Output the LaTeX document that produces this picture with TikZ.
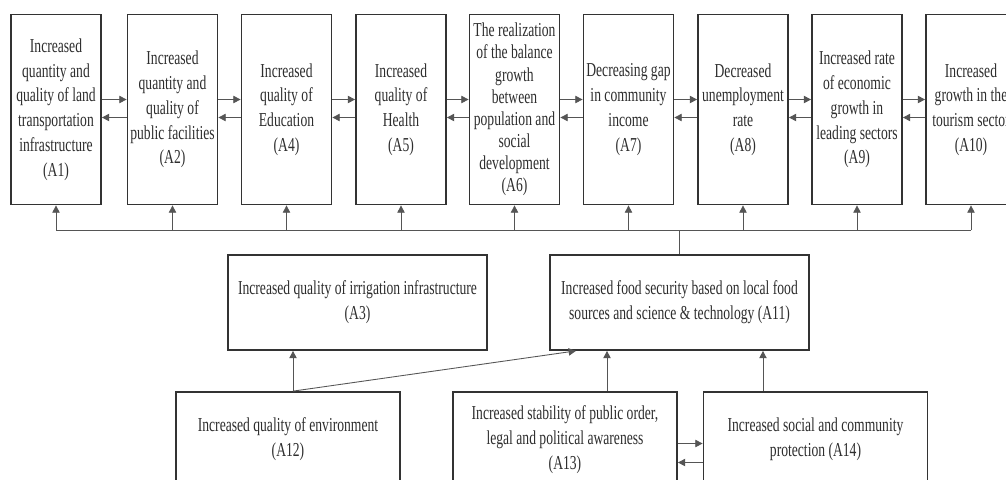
\documentclass[tikz,border=0pt]{standalone}
\usepackage{fontspec}
\setmainfont{Liberation Serif}[FakeStretch=0.69]
\usetikzlibrary{arrows.meta}
\definecolor{boxgray}{HTML}{333333}
\definecolor{linkgray}{HTML}{555555}

\tikzset{
  topbox/.style={draw=boxgray,line width=1.3pt,text=boxgray!90!black,align=center,
    inner sep=1pt,minimum width=67.5pt,minimum height=142.5pt,
    font=\fontsize{14.8}{18.6}\selectfont},
  widebox/.style={topbox,minimum width=194pt,minimum height=71.25pt},
  lowbox/.style={topbox,minimum width=168pt,minimum height=71.25pt},
  line/.style={draw=linkgray,line width=0.65pt},
  link/.style={line,-{Triangle[length=5.5pt,width=5.5pt]}}
}

\begin{document}
\begin{tikzpicture}[x=0.75pt,y=-0.75pt]
    \useasboundingbox (0,0) rectangle (1006,479);
    \fill[white] (0,0) rectangle (1006,479);
    \clip (0,0) rectangle (1006,479);

    % top row
    \node[topbox] (A1) at (56,109.5) {Increased\\quantity and\\quality of land\\transportation\\infrastructure\\(A1)};
    \node[topbox] (A2) at (172.5,109.5) {Increased\\quantity and\\quality of\\public facilities\\(A2)};
    \node[topbox] (A4) at (286.5,109.5) {Increased\\quality of\\Education\\(A4)};
    \node[topbox] (A5) at (401,109.5) {Increased\\quality of\\Health\\(A5)};
    \node[topbox,font=\fontsize{14.8}{16.6}\selectfont] (A6) at (514.5,109.5) {The realization\\of the balance\\growth\\between\\population and\\social\\development\\(A6)};
    \node[topbox] (A7) at (628.5,109.5) {Decreasing gap\\in community\\income\\(A7)};
    \node[topbox] (A8) at (743,109.5) {Decreased\\unemployment\\rate\\(A8)};
    \node[topbox] (A9) at (857,109.5) {Increased rate\\of economic\\growth in\\leading sectors\\(A9)};
    \node[topbox] (A10) at (971,109.5) {Increased\\growth in the\\tourism sector\\(A10)};

    % middle row
    \node[widebox] (A3) at (357.5,302.5) {Increased quality of irrigation infrastructure\\(A3)};
    \node[widebox] (A11) at (679.5,302.5) {Increased food security based on local food\\sources and science \& technology (A11)};

    % bottom row
    \node[lowbox] (A12) at (288,439.5) {Increased quality of environment\\(A12)};
    \node[lowbox] (A13) at (565,439.5) {Increased stability of public order,\\legal and political awareness\\(A13)};
    \node[lowbox] (A14) at (815.5,439.5) {Increased social and community\\protection (A14)};

    % two-way links along the top row
    \foreach \a/\b in {A1/A2,A2/A4,A4/A5,A5/A6,A6/A7,A7/A8,A8/A9,A9/A10}{
      \draw[link] ([yshift=7.5pt]\a.east) -- ([yshift=7.5pt]\b.west);
      \draw[link] ([yshift=-6pt]\b.west) -- ([yshift=-6pt]\a.east);
    }

    % A11 feeds every box of the top row
    \coordinate (bus) at (680,230);
    \draw[line] (A11.north |- bus) -- (A11.north);
    \draw[line] (A1.south |- bus) -- (A10.south |- bus);
    \foreach \n in {A1,A2,A4,A5,A6,A7,A8,A9,A10}
      \draw[link] (\n.south |- bus) -- (\n.south);

    % bottom row into the middle row
    \coordinate (envtop) at ([xshift=3.75pt]A12.north);
    \coordinate (ordtop) at ([xshift=31.5pt]A13.north);
    \coordinate (soctop) at ([xshift=-39.4pt]A14.north);
    \draw[link] (envtop) -- (envtop |- A3.south);
    \draw[link] (envtop) -- ([xshift=20pt]A11.south west);
    \draw[link] (ordtop) -- (ordtop |- A11.south);
    \draw[link] (soctop) -- (soctop |- A11.south);
    \draw[link] ([yshift=-3pt]A13.east) -- ([yshift=-3pt]A14.west);
    \draw[link] ([yshift=-17.25pt]A14.west) -- ([yshift=-17.25pt]A13.east);
\end{tikzpicture}
\end{document}
